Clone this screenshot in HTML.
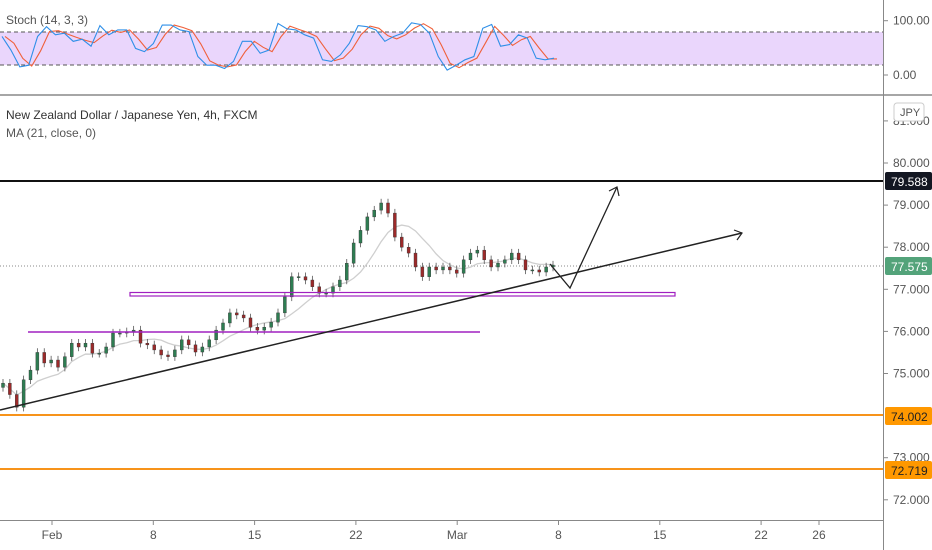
<!DOCTYPE html>
<html><head><meta charset="utf-8"><style>
html,body{margin:0;padding:0;background:#fff;}
svg{display:block;font-family:"Liberation Sans",sans-serif;}
</style></head><body>
<svg id="c" width="932" height="550" viewBox="0 0 932 550">
<rect x="0" y="0" width="932" height="550" fill="#fff"/>
<rect x="0" y="32" width="883" height="33" fill="#ead6fc"/>
<line x1="0" y1="32" x2="883" y2="32" stroke="#555" stroke-dasharray="4,3"/>
<line x1="0" y1="65" x2="883" y2="65" stroke="#555" stroke-dasharray="4,3"/>
<line x1="0" y1="95" x2="932" y2="95" stroke="#888" stroke-width="1.5"/>
<line x1="883.5" y1="0" x2="883.5" y2="550" stroke="#888"/>
<line x1="0" y1="520.5" x2="883" y2="520.5" stroke="#888"/>
<text x="6" y="24" font-size="12" fill="#555">Stoch (14, 3, 3)</text>
<text x="6" y="119" font-size="12" fill="#333">New Zealand Dollar / Japanese Yen, 4h, FXCM</text>
<text x="6" y="137" font-size="12" fill="#555">MA (21, close, 0)</text>
<g id="ticks"></g>
<line x1="0" y1="266" x2="883" y2="266" stroke="#888" stroke-dasharray="1,2"/>
<g id="stoch"></g>
<g id="ma"></g>
<g id="candles"></g>
<line x1="0" y1="181" x2="883" y2="181" stroke="#111" stroke-width="2"/>
<line x1="0" y1="415" x2="883" y2="415" stroke="#f7931a" stroke-width="2"/>
<line x1="0" y1="469" x2="883" y2="469" stroke="#f7931a" stroke-width="2"/>
<rect x="130" y="292.5" width="545" height="3.5" fill="none" stroke="#a020c0" stroke-width="1.2"/>
<line x1="28" y1="332" x2="480" y2="332" stroke="#a020c0" stroke-width="1.5"/>
<line x1="0" y1="410" x2="742" y2="233" stroke="#222" stroke-width="1.5"/>
<polyline points="734,230 742,233 737,240" fill="none" stroke="#222" stroke-width="1.2"/>
<polyline points="550,264 570,288 617,187" fill="none" stroke="#222" stroke-width="1.3"/>
<polyline points="609,191 617,187 619,196" fill="none" stroke="#222" stroke-width="1.2"/>
<g id="labels">
<rect x="885" y="172" width="47" height="18" rx="2" fill="#131722"/>
<text x="891" y="186" font-size="12" fill="#fff">79.588</text>
<rect x="885" y="257" width="47" height="18" rx="2" fill="#53a37a"/>
<text x="891" y="271" font-size="12" fill="#fff">77.575</text>
<rect x="885" y="407" width="47" height="18" rx="2" fill="#ff9800"/>
<text x="891" y="421" font-size="12" fill="#222">74.002</text>
<rect x="885" y="461" width="47" height="18" rx="2" fill="#ff9800"/>
<text x="891" y="475" font-size="12" fill="#222">72.719</text>
<rect x="894" y="103" width="30" height="18" rx="3" fill="#fff" stroke="#ccc"/>
<text x="900" y="116" font-size="11" fill="#555">JPY</text>
</g>
</svg>
<script>
const NS="http://www.w3.org/2000/svg";
const closes=[74.77,74.5,74.2,74.85,75.08,75.5,75.25,75.32,75.15,75.4,75.72,75.63,75.72,75.48,75.48,75.63,75.96,75.96,75.99,76.03,75.72,75.68,75.56,75.44,75.4,75.56,75.8,75.68,75.51,75.63,75.8,76.03,76.2,76.44,76.39,76.32,76.1,76.03,76.1,76.22,76.44,76.82,77.3,77.3,77.22,77.06,76.91,76.91,77.06,77.22,77.62,78.1,78.4,78.72,78.88,79.05,78.81,78.24,78.0,77.86,77.53,77.3,77.53,77.46,77.53,77.46,77.38,77.7,77.86,77.93,77.7,77.53,77.62,77.7,77.86,77.7,77.46,77.46,77.41,77.53,77.575];
const stochK=[71,46,15,18,71,89,74,77,62,66,53,91,74,83,83,49,43,58,92,92,83,80,34,18,18,12,25,62,62,40,46,95,85,83,74,68,28,25,37,58,91,89,83,62,71,77,96,93,77,34,9,18,28,34,86,93,53,56,74,68,31,28,31];
const priceTicks=["81.000","80.000","79.000","78.000","77.000","76.000","75.000","73.000","72.000"];
const stochTicks=["100.00","0.00"];
const dateLabels=["Feb","8","15","22","Mar","8","15","22","26"];
const datePos=[0,7,14,21,28,35,42,49,53];
const py=p=>163+(80-p)*42.1;
const sy=v=>75-v*0.543;
const cx=i=>3+i*(550/(closes.length-1));
const sx=i=>2+i*(552/(stochK.length-1));
const dx=d=>52+d*101.3/7;
function mk(tag,attrs,parent){const e=document.createElementNS(NS,tag);for(const k in attrs)e.setAttribute(k,attrs[k]);parent.appendChild(e);return e;}
const tk=document.getElementById('ticks');
priceTicks.forEach(t=>{const y=py(parseFloat(t));
 const l=mk('line',{x1:883,x2:888,y1:y,y2:y,stroke:'#888'},tk);
 
 
 const tx=mk('text',{x:893,y:y+4,'font-size':12,fill:'#555'},tk);tx.textContent=t;
 
 });
stochTicks.forEach(t=>{const y=sy(parseFloat(t));
 mk('line',{x1:883,x2:888,y1:y,y2:y,stroke:'#888'},tk);
 const tx=mk('text',{x:893,y:y+4,'font-size':12,fill:'#555'},tk);tx.textContent=t;
 
 });
dateLabels.forEach((t,i)=>{const x=dx(datePos[i]);
 mk('line',{x1:x,x2:x,y1:520,y2:525,stroke:'#888'},tk);
 const tx=mk('text',{x:x,y:539,'font-size':12,fill:'#555','text-anchor':'middle'},tk);tx.textContent=t;
 
 });
const cg=document.getElementById('candles');
closes.forEach((c,i)=>{const o=i?closes[i-1]:c-0.1;const up=c>=o;const col=up?'#2e7d52':'#9c2a2a';
 const hi=Math.max(o,c)+0.1,lo=Math.min(o,c)-0.1;const x=cx(i);
 const w=mk('line',{x1:x,x2:x,y1:py(hi),y2:py(lo),stroke:'#555','stroke-width':0.8},cg);
 
 
 const r=mk('rect',{x:x-1.5,y:py(Math.max(o,c)),width:3,height:Math.max(1,Math.abs(py(o)-py(c))),fill:col,stroke:'#333','stroke-width':0.4},cg);
 
 });
const n=8;let pts=[];
closes.forEach((c,i)=>{const s=closes.slice(Math.max(0,i-n+1),i+1);const m=s.reduce((a,b)=>a+b,0)/s.length;pts.push(cx(i)+','+py(m));});
const ma=mk('polyline',{points:pts.join(' '),fill:'none',stroke:'#cfcfcf','stroke-width':1.3},document.getElementById('ma'));


const sg=document.getElementById('stoch');
const D=stochK.map((v,i)=>{const s=stochK.slice(Math.max(0,i-1),i+1);return s.reduce((a,b)=>a+b,0)/s.length;});
const dl=mk('polyline',{points:D.map((v,i)=>(sx(i)+3)+','+sy(v)).join(' '),fill:'none',stroke:'#f0603a','stroke-width':1.1},sg);


const kl=mk('polyline',{points:stochK.map((v,i)=>sx(i)+','+sy(v)).join(' '),fill:'none',stroke:'#2f8fe8','stroke-width':1.1},sg);


</script>
</body></html>
